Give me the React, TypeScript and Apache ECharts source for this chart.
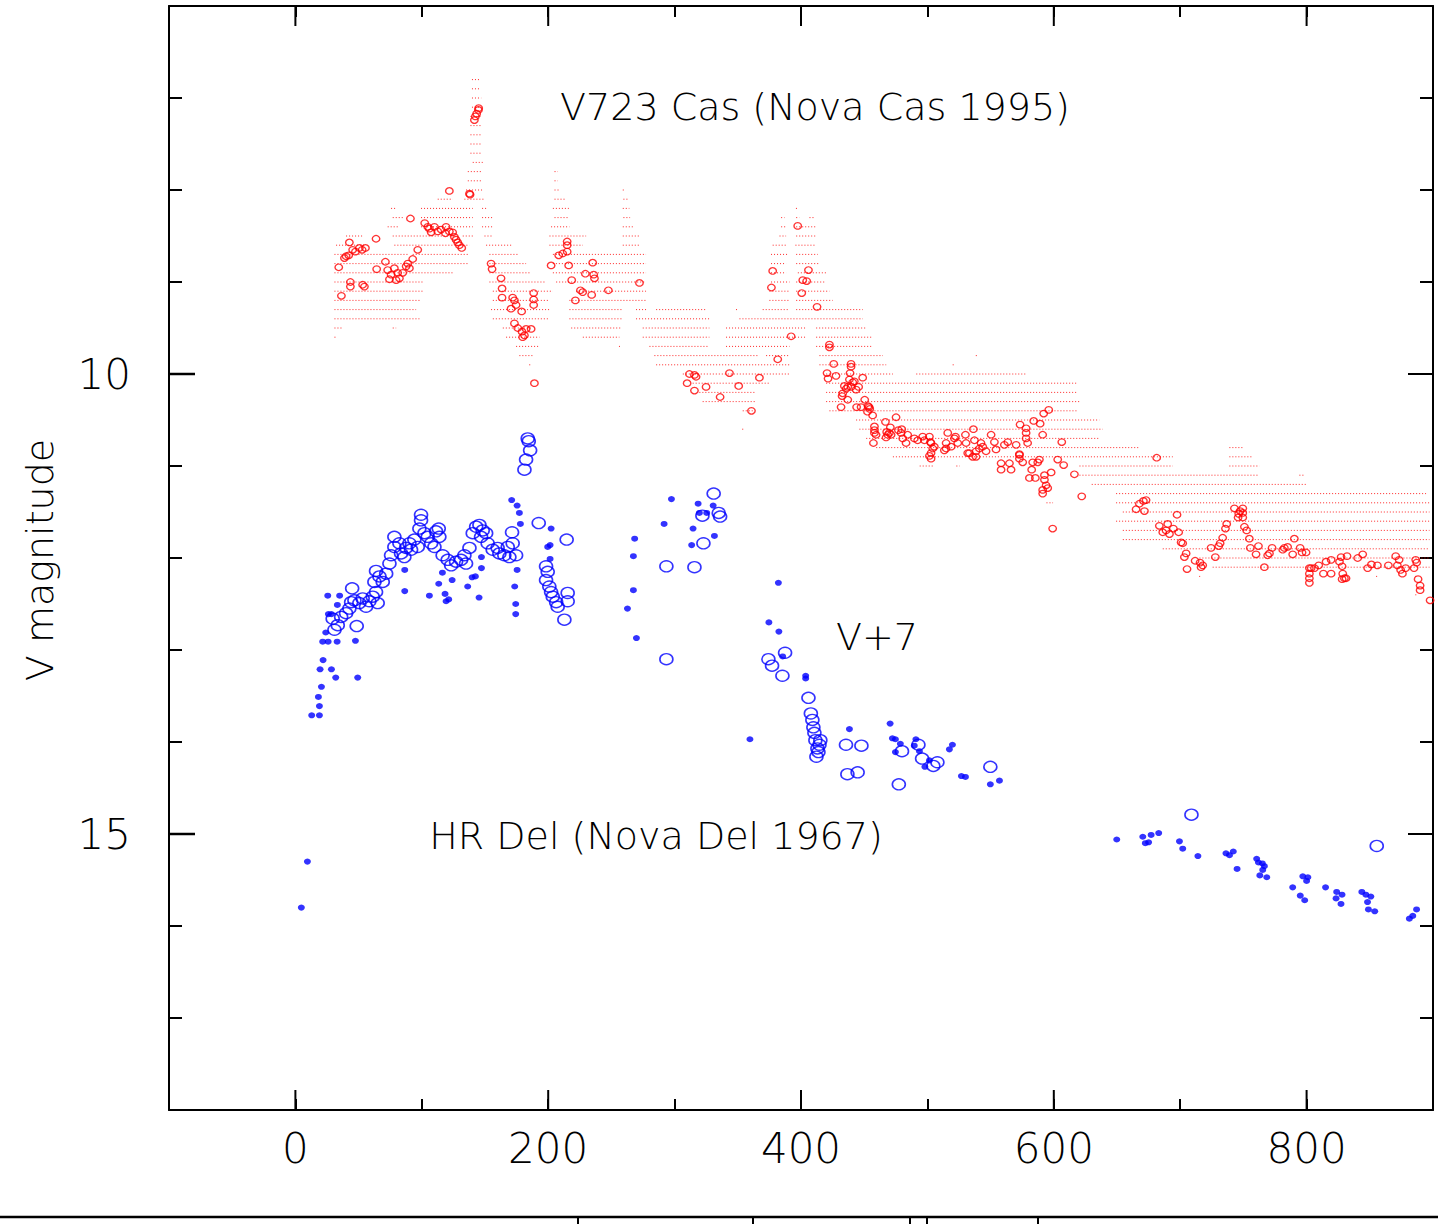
import React, { useEffect, useRef } from "react";
import * as echarts from "echarts";

// Axis ticks
const xMajorTicks = [0, 200, 400, 600, 800];
const yMajorTicks = [10, 15];

// V723 Cas: photometric points (open red circles) [day, V]
const v723Circles: [number, number][] = [
  [34.3,8.84],[36.4,9.15],[38.8,8.74],[40.1,8.72],[42.2,8.71],[42.7,8.57],[45.3,8.65],[47.5,8.67],[50.6,8.63],[52.8,8.65],[55.4,8.63],[43.5,9.0],[43.5,9.05],[53.2,9.03],[54.6,9.05],[63.8,8.53],[64.3,8.86],[71.2,8.78],[73.0,8.87],[75.7,8.92],[78.3,8.85],[80.9,8.90],[82.3,8.96],[74.4,8.97],[79.7,8.98],[84.9,8.90],[87.6,8.83],[90.2,8.85],[88.9,8.80],[92.8,8.75],[96.8,8.65],[91.0,8.31],[102.3,8.36],[104.7,8.40],[107.4,8.46],[106.0,8.42],[110.0,8.40],[112.6,8.45],[115.3,8.43],[119.2,8.40],[118.7,8.47],[121.8,8.45],[124.4,8.46],[125.8,8.51],[127.1,8.54],[128.4,8.57],[129.7,8.60],[131.6,8.63],[121.8,8.01],[137.7,8.04],[138.2,8.05],[141.6,7.24],[142.4,7.20],[143.4,7.17],[144.8,7.13],[145.0,7.11],[154.8,8.80],[155.6,8.86],[162.7,8.96],[163.5,9.07],[163.5,9.17],[171.9,9.17],[173.3,9.20],[170.6,9.29],[174.6,9.25],[173.3,9.45],[175.9,9.50],[179.3,9.54],[181.2,9.58],[182.5,9.51],[186.5,9.51],[179.8,9.60],[179.0,9.32],[188.5,9.12],[188.5,9.19],[188.5,9.25],[189.1,10.10],[202.3,8.82],[208.3,8.71],[211.5,8.69],[215.0,8.56],[215.0,8.60],[215.0,8.67],[216.2,8.82],[218.6,8.98],[221.5,9.20],[225.5,9.09],[227.3,9.11],[229.4,8.91],[235.2,8.79],[234.4,9.14],[236.0,8.92],[236.6,8.96],[247.6,9.09],[272.2,9.01],
  [311.7,10.0],[315.7,10.01],[317.0,10.03],[309.9,10.10],[315.7,10.18],[324.9,10.14],[336.0,10.25],[343.4,9.99],[350.7,10.13],[360.8,10.40],[367.1,10.04],[381.6,9.84],[376.6,9.06],[377.6,8.88],[392.2,9.59],[397.4,8.39],[400.6,9.12],[401.4,8.98],[404.5,8.99],[405.9,8.87],[412.7,9.27],[422.5,9.68],[422.5,9.71],[425.9,9.89],[420.6,9.99],[421.4,10.05],[427.7,10.02],[439.6,9.89],[439.6,9.92],[438.8,9.99],[438.3,10.06],[440.9,10.09],[442.2,10.08],[448.8,10.04],[434.3,10.13],[437.0,10.14],[435.7,10.16],[433.0,10.21],[432.5,10.24],[437.0,10.28],[431.7,10.36],[439.6,10.14],[443.6,10.17],[445.6,10.14],[444.0,10.36],[447.5,10.36],[450.4,10.28],[453.1,10.35],[454.4,10.38],[452.6,10.41],[453.9,10.36],[456.7,10.45],[457.3,10.75],[458.1,10.57],[458.1,10.61],[458.1,10.64],[459.4,10.66],[466.8,10.52],[467.8,10.63],[468.6,10.66],[467.3,10.69],[469.9,10.64],[471.3,10.66],[475.2,10.47],[470.7,10.58],[477.0,10.61],[479.7,10.60],[479.2,10.64],[480.5,10.70],[483.1,10.75],[484.4,10.66],[489.7,10.70],[492.3,10.72],[496.3,10.68],[497.6,10.72],[501.6,10.68],[502.4,10.74],[502.9,10.75],[504.2,10.81],[505.5,10.79],[502.9,10.86],[502.9,10.92],[501.6,10.89],[514.8,10.75],[514.8,10.81],[513.4,10.83],[516.1,10.64],[518.8,10.79],[521.4,10.70],[524.0,10.75],[522.2,10.68],[530.1,10.66],[530.6,10.75],[533.2,10.86],[535.8,10.90],[537.2,10.72],[538.5,10.84],[541.1,10.81],[542.4,10.75],[543.8,10.79],[536.4,10.60],[531.9,10.86],[538.5,10.90],[546.4,10.84],[550.4,10.66],[553.0,10.74],[554.3,10.82],[558.3,10.97],[558.3,11.04],[560.9,10.77],[564.9,10.97],[566.2,11.04],[570.2,10.77],[563.6,10.74],[572.8,10.92],[572.8,10.88],[573.3,10.55],[578.1,10.59],[578.1,10.64],[578.1,10.70],[575.4,10.96],[579.3,10.75],[572.8,10.87],[584.1,10.51],[589.2,10.54],[591.2,10.66],[583.3,10.96],[582.5,11.04],[580.7,11.13],[585.4,11.13],[587.3,10.96],[588.6,10.93],[592.6,11.10],[592.6,11.15],[593.9,11.21],[591.2,11.26],[591.2,11.30],[595.2,11.24],[597.9,11.07],[592.0,10.43],[596.0,10.39],[603.1,10.93],[607.8,10.99],[606.3,10.74],[616.3,11.09],[622.1,11.33],[599.1,11.68],
  [665.1,11.47],[667.7,11.41],[670.9,11.38],[673.0,11.37],[671.7,11.49],[681.4,10.91],[683.5,11.65],[690.1,11.63],[686.2,11.72],[691.5,11.74],[688.8,11.70],[694.6,11.68],[698.8,11.72],[697.5,11.53],[700.7,11.83],[702.0,11.84],[704.7,11.95],[703.3,11.99],[705.4,12.12],[711.8,12.03],[715.7,12.05],[716.5,12.10],[717.8,12.08],[724.4,11.89],[727.8,11.99],[730.5,11.87],[731.6,11.84],[733.6,11.78],[735.8,11.68],[736.8,11.63],[742.9,11.46],[745.8,11.56],[746.3,11.52],[747.4,11.49],[749.5,11.46],[749.5,11.51],[749.5,11.56],[750.8,11.66],[752.6,11.70],[754.7,11.79],[755.5,11.89],[760.0,11.96],[761.9,11.87],[766.6,12.10],[769.2,11.97],[770.6,11.95],[772.7,11.89],[781.1,11.91],[782.4,11.89],[785.0,11.88],[789.0,11.96],[790.3,11.79],[794.9,11.89],[796.4,11.94],[799.6,11.94],[802.2,12.11],[802.2,12.17],[802.2,12.22],[802.2,12.27],[803.6,12.11],[806.2,12.11],[809.6,12.08],[813.3,12.17],[819.4,12.17],[815.4,12.04],[819.4,12.02],[826.0,12.04],[827.3,11.99],[832.0,11.98],[828.1,12.09],[828.6,12.17],[829.9,12.22],[831.2,12.22],[828.1,12.23],[840.4,12.00],[844.4,11.96],[848.3,12.11],[851.3,12.07],[856.0,12.08],[864.7,12.08],[870.5,11.98],[873.2,12.02],[871.8,12.08],[874.4,12.13],[875.8,12.17],[878.4,12.11],[885.0,12.11],[886.3,12.02],[887.1,12.05],[888.2,12.23],[889.8,12.30],[889.8,12.35],[897.7,12.46]
];

// V723 Cas visual estimates, rows of dots: [V, day from, day to]
const v723Visual: [number, number, number][] = [
  [6.8,139.7,146.2],[6.9,139.7,146.2],[7.0,139.7,147.0],[7.1,139.7,147.0],[7.2,138.5,147.7],[7.3,138.5,147.7],[7.4,138.5,147.7],[7.5,138.5,147.7],[7.6,138.5,147.7],[7.7,140.3,148.2],
  [7.8,136.4,148.2],[7.8,205,207.6],[7.9,136.4,148.2],[7.9,205,207.6],
  [8.0,135,148.2],[8.0,205,208.9],[8.0,259,260.3],
  [8.1,112.6,124.5],[8.1,133.7,149.6],[8.1,205,214.2],[8.1,259.5,264.2],
  [8.2,75.7,79.7],[8.2,99.4,140.3],[8.2,147.7,150.9],[8.2,203.7,216.3],[8.2,259,264.2],[8.2,396,398],
  [8.3,77,84.9],[8.3,99.4,140.3],[8.3,147.7,156.2],[8.3,205,215.5],[8.3,259.5,264.8],[8.3,384.3,387],[8.3,396.2,398.7],[8.3,406.7,410.6],
  [8.4,73,82.3],[8.4,99.4,140.3],[8.4,147.7,156.2],[8.4,202.3,216.8],[8.4,259,266.9],[8.4,384.3,388.2],[8.4,396.2,412],
  [8.5,40.1,53.3],[8.5,77,127.1],[8.5,132.4,140.3],[8.5,149.6,156.2],[8.5,201,230],[8.5,259,272.2],[8.5,383,388.2],[8.5,396.2,412],
  [8.6,32.2,55.9],[8.6,78.3,137.7],[8.6,150.9,172],[8.6,201,227.4],[8.6,259,272.2],[8.6,377.6,388.2],[8.6,395.6,412],
  [8.7,30.9,90.2],[8.7,92.8,137.7],[8.7,153.5,177.2],[8.7,203.7,277.4],[8.7,376.3,389.5],[8.7,396.2,413.3],
  [8.8,30.9,137.7],[8.8,153.5,182.5],[8.8,203.7,277.4],[8.8,376.3,388.2],[8.8,396.2,414.6],
  [8.9,30.9,124.5],[8.9,153.5,185.2],[8.9,203.7,277.4],[8.9,376.3,388.2],[8.9,397.5,419.9],
  [9.0,30.9,100.8],[9.0,153.5,198.4],[9.0,206.3,277.4],[9.0,376.3,390.9],[9.0,396.2,419.9],
  [9.1,30.9,100.8],[9.1,156.2,203.7],[9.1,222.1,277.4],[9.1,375,390.9],[9.1,396.2,422.5],
  [9.2,30.9,99.4],[9.2,156.2,201],[9.2,216.8,277.4],[9.2,375,390.9],[9.2,396.2,425.1],
  [9.3,30.9,95.5],[9.3,154.8,201],[9.3,216.8,259],[9.3,269.5,277.4],[9.3,285.4,324.9],[9.3,348.6,349.6],[9.3,369.7,390.9],[9.3,396.2,448.9],
  [9.4,30.9,98.1],[9.4,156.2,199.7],[9.4,216.8,259],[9.4,269.5,327.5],[9.4,351.3,448.9],
  [9.5,30.9,37.4],[9.5,77,79.7],[9.5,164.1,187.8],[9.5,218.2,257.6],[9.5,274.8,327.5],[9.5,340.7,404],[9.5,412,451.6],
  [9.6,30.9,32.2],[9.6,166.7,193.1],[9.6,227.4,256.3],[9.6,274.8,327.5],[9.6,340.7,404],[9.6,412,456.8],
  [9.7,174.6,193.1],[9.7,256,257],[9.7,280.1,327.5],[9.7,340.7,390.9],[9.7,412,456.8],
  [9.8,177.2,187.8],[9.8,284,367.1],[9.8,372.4,390.9],[9.8,414.6,464.8],[9.8,538.3,539.3],
  [9.9,185,186],[9.9,285.4,390.9],[9.9,414.6,467.4],[9.9,520,521],
  [10.0,306.5,390.9],[10.0,419.9,472.7],[10.0,491.2,578.3],
  [10.1,314.3,375],[10.1,419.9,617.9],
  [10.2,319.6,364.4],[10.2,419.9,617.9],
  [10.3,322.2,364.4],[10.3,419.9,620.5],
  [10.4,353.9,361.8],[10.4,422.5,617.9],
  [10.5,443.6,636],
  [10.6,353.5,354.5],[10.6,446.2,638.7],
  [10.7,451.6,636.1],
  [10.8,459.5,667.7],[10.8,738.9,749.5],
  [10.9,472.7,694.1],[10.9,738.9,757.4],
  [11.0,493.9,504.5],[11.0,522.9,525.6],[11.0,620.3,694.1],[11.0,738.9,762.7],
  [11.1,620.3,762.7],[11.1,794.3,798.3],
  [11.2,630,799.6],
  [11.3,649.3,894.5],
  [11.4,594.2,599.4],[11.4,649.3,897.2],
  [11.5,654.6,897.2],
  [11.6,649.3,897.2],
  [11.7,654.6,897.2],
  [11.8,654.6,897.2],
  [11.9,686.2,897.2],
  [12.0,715.2,897.2],
  [12.1,725.7,897.2],
  [12.2,715,716],[12.2,855,856],[12.2,886,888],
  [12.4,886,888]
];

// HR Del (V+7): open blue circles [day, V+7]
const hrDelOpen: [number, number][] = [
  [30.9,12.78],[33.5,12.73],[29.5,12.66],[36.2,12.64],[40.1,12.60],[42.7,12.55],[44.1,12.48],[46.7,12.46],[50.6,12.49],[53.2,12.44],[55.9,12.53],[58.5,12.47],[61.2,12.42],[65.1,12.49],[44.9,12.33],[48.5,12.74],[63.8,12.37],[62.5,12.26],[63.8,12.14],[66.5,12.20],[69.1,12.26],[71.8,12.17],[74.4,12.06],[75.7,11.97],[78.3,11.88],[78.3,11.77],[82.3,11.84],[83.6,11.95],[86.2,11.99],[87.6,11.89],[90.2,11.84],[91.5,11.91],[94.1,11.80],[96.8,11.88],[99.4,11.53],[99.4,11.59],[98.1,11.68],[102.1,11.73],[104.7,11.77],[107.4,11.84],[111.3,11.71],[113.4,11.68],[113.9,11.77],[110.0,11.88],[116.5,11.97],[120.5,12.02],[123.2,12.08],[127.1,12.04],[131.1,12.02],[133.7,11.97],[135.0,12.06],[137.7,11.89],[140.3,11.73],[143.0,11.66],[145.6,11.64],[148.2,11.70],[146.9,11.77],[150.9,11.73],[152.1,11.84],[156.1,11.91],[160.0,11.89],[161.4,11.95],[165.3,11.97],[168.0,11.88],[169.3,11.99],[171.9,11.84],[171.4,11.72],[174.6,11.97],[181.2,11.04],[182.5,10.93],[185.7,10.83],[184.6,10.73],[183.8,10.70],[192.5,11.62],[214.6,11.80],[198.3,12.09],[199.6,12.15],[198.3,12.24],[200.9,12.31],[202.3,12.37],[203.6,12.42],[206.3,12.48],[207.5,12.53],[215.4,12.38],[215.4,12.47],[212.8,12.67],
  [293.5,13.10],[293.5,12.09],[315.7,12.10],[322.8,11.84],[330.9,11.30],[334.9,11.51],[336.0,11.55],[322.0,11.54],
  [387.4,13.03],[374.2,13.10],[377.1,13.17],[385.3,13.28],[405.9,13.52],[407.8,13.69],[409.0,13.76],[409.8,13.84],[410.6,13.90],[411.4,13.98],[413.0,14.07],[414.6,14.03],[415.3,13.98],[413.8,14.11],[412.2,14.16],
  [435.6,14.03],[447.8,14.04],[436.7,14.35],[444.8,14.33],[479.9,14.10],[477.4,14.46],[492.9,14.03],[495.8,14.18],[504.7,14.26],[507.9,14.22],[549.8,14.27],[708.9,14.79],[855.5,15.13]
];

// HR Del (V+7): filled blue dots [day, V+7]
const hrDelFilled: [number, number][] = [
  [4.7,15.80],[9.5,15.30],[12.9,13.71],[19.0,13.71],[19.0,13.61],[18.2,13.51],[20.6,13.40],[19.5,13.21],[28.5,13.21],[21.9,13.11],[31.9,13.30],[49.3,13.30],[21.6,12.91],[25.9,12.91],[33.0,12.91],[47.5,12.90],[24.0,12.81],[25.6,12.41],[35.0,12.41],[26.1,12.61],[28.5,12.61],[33.2,12.51],
  [86.5,12.13],[86.5,12.36],[106.0,12.41],[116.3,12.16],[113.4,12.28],[118.4,12.39],[119.2,12.47],[121.3,12.45],[124.0,12.24],[136.3,12.31],[145.3,12.43],[142.4,12.20],[139.8,12.21],[147.2,11.99],[147.2,12.11],
  [171.1,11.37],[175.4,11.43],[177.2,11.51],[178.0,11.63],[175.4,12.13],[173.5,12.31],[174.3,12.50],[174.3,12.61],[202.3,11.68],[201.5,11.86],[199.6,11.88],[201.5,12.01],
  [262.7,12.55],[269.8,12.87],[268.4,11.79],[267.4,11.98],[267.4,12.35],[297.5,11.36],[318.6,11.41],[330.5,11.43],[319.6,11.51],[325.4,11.51],[291.7,11.63],[314.6,11.68],[331.5,11.76],[313.5,11.86],
  [359.6,13.97],[382.1,12.27],[374.6,12.70],[382.5,12.80],[385.5,13.07],[403.7,13.28],[403.7,13.31],[438.3,13.86],[470.5,13.80],[472.3,13.96],[474.7,13.97],[478.6,14.02],[474.7,14.11],[490.9,13.97],[489.6,14.04],[493.7,14.10],[498.0,14.27],[501.6,14.20],[517.4,14.08],[519.8,14.03],[526.9,14.37],[530.1,14.38],[549.8,14.46],[557.0,14.42],
  [649.8,15.06],[670.4,15.03],[672.4,15.10],[675.0,15.09],[677.0,15.01],[683.0,14.99],[699.4,15.08],[702.0,15.16],[714.0,15.24],[736.2,15.21],[742.0,15.19],[739.0,15.23],[745.0,15.38],[760.5,15.27],[761.9,15.31],[765.0,15.32],[766.6,15.35],[765.3,15.39],[763.0,15.45],[768.5,15.47],[789.0,15.58],[797.0,15.46],[801.0,15.47],[800.0,15.51],[795.0,15.67],[798.5,15.72],[815.0,15.58],[823.8,15.63],[828.0,15.66],[823.3,15.70],[827.2,15.76],[843.7,15.63],[846.9,15.66],[850.8,15.68],[848.2,15.74],[848.9,15.82],[853.9,15.84],[881.3,15.92],[884.0,15.89],[887.0,15.82]
];

const labels = {
  v723: "V723 Cas (Nova Cas 1995)",
  shift: "V+7",
  hrdel: "HR Del (Nova Del 1967)",
  yTitle: "V magnitude",
};

const FONT = '"DejaVu Sans", sans-serif';
const WEIGHT = 200;
const black = "#000";
const tickStyle = { color: black, width: 2 };
const X_MIN = -100, X_MAX = 900, Y_MIN = 6, Y_MAX = 18;

function xAxes(): any[] {
  const base = {
    type: "value",
    min: X_MIN,
    max: X_MAX,
    interval: 100,
    splitLine: { show: false },
    axisLine: { show: true, onZero: false, lineStyle: tickStyle },
    axisTick: { inside: true, length: 11, lineStyle: tickStyle },
    axisLabel: { show: false },
  };
  return [
    { ...base, position: "bottom" },
    { ...base, position: "top" },
  ];
}

function yAxes(): any[] {
  const base = {
    type: "value",
    min: Y_MIN,
    max: Y_MAX,
    interval: 1,
    inverse: true,
    splitLine: { show: false },
    axisLine: { show: true, onZero: false, lineStyle: tickStyle },
    axisTick: { inside: true, length: 13, lineStyle: tickStyle },
    axisLabel: { show: false },
  };
  return [
    { ...base, position: "left" },
    { ...base, position: "right" },
  ];
}

function textEl(text: string, x: number, y: number, size: number, rotation = 0): any {
  return {
    type: "text",
    x,
    y,
    rotation,
    silent: true,
    style: {
      text,
      font: `${WEIGHT} ${size}px ${FONT}`,
      fill: black,
      align: "center",
      verticalAlign: "middle",
      textAlign: "center",
      textVerticalAlign: "middle",
    },
  };
}

const tickLine = (x1: number, y1: number, x2: number, y2: number) => ({
  type: "line",
  silent: true,
  z: 100,
  shape: { x1, y1, x2, y2 },
  style: { stroke: black, lineWidth: 2 },
});

const tickText = (text: string, x: number, y: number, align: string, vAlign: string) => ({
  type: "text",
  x,
  y,
  style: {
    text,
    font: `${WEIGHT} 42px ${FONT}`,
    fill: black,
    align,
    verticalAlign: vAlign,
    textAlign: align,
    textVerticalAlign: vAlign,
  },
});

export default function App() {
  const ref = useRef<HTMLDivElement>(null);

  useEffect(() => {
    if (!ref.current) return;
    const chart = echarts.init(ref.current, null, { renderer: "svg" });
    const option: any = {
      animation: false,
      backgroundColor: "#fff",
      grid: { left: 169, top: 6, width: 1264, height: 1104, containLabel: false },
      xAxis: xAxes(),
      yAxis: yAxes(),
      series: [
        {
          type: "custom",
          name: "V723 Cas visual",
          clip: true,
          silent: true,
          data: v723Visual,
          encode: { x: [1, 2], y: 0 },
          renderItem: (_params: any, api: any) => {
            const m = api.value(0);
            const p1 = api.coord([api.value(1), m]);
            const p2 = api.coord([api.value(2), m]);
            return {
              type: "line",
              shape: { x1: p1[0], y1: p1[1], x2: Math.max(p2[0], p1[0] + 1.5), y2: p2[1] },
              style: { stroke: "rgba(255,0,0,0.85)", lineWidth: 1, lineDash: [1, 2] },
            };
          },
        },
        {
          type: "scatter",
          name: "V723 Cas",
          data: v723Circles,
          symbol: "circle",
          symbolSize: [7.5, 6.5],
          itemStyle: { color: "rgba(0,0,0,0)", borderColor: "#ff0000", borderWidth: 1.3 },
          silent: true,
        },
        {
          type: "scatter",
          name: "HR Del open",
          data: hrDelOpen,
          symbol: "circle",
          symbolSize: [13, 11],
          itemStyle: { color: "rgba(0,0,0,0)", borderColor: "#0000ff", borderWidth: 1.5 },
          silent: true,
        },
        {
          type: "scatter",
          name: "HR Del filled",
          data: hrDelFilled,
          symbol: "circle",
          symbolSize: [7, 6],
          itemStyle: { color: "#0000ff" },
          silent: true,
        },
        {
          // long (major) ticks and labels on bottom and top axes
          type: "custom",
          name: "x major ticks",
          clip: false,
          silent: true,
          z: 10,
          data: xMajorTicks.map((v) => [v, Y_MAX]),
          encode: { x: 0, y: 1 },
          renderItem: (_params: any, api: any) => {
            const v = api.value(0);
            const b = api.coord([v, Y_MAX]);
            const t = api.coord([v, Y_MIN]);
            return {
              type: "group",
              children: [
                tickLine(b[0], b[1], b[0], b[1] - 20),
                tickLine(t[0], t[1], t[0], t[1] + 20),
                tickText(String(v), b[0], b[1] + 17, "center", "top"),
              ],
            };
          },
        },
        {
          // long (major) ticks and labels on left and right axes
          type: "custom",
          name: "y major ticks",
          clip: false,
          silent: true,
          z: 10,
          data: yMajorTicks.map((v) => [X_MIN, v]),
          encode: { x: 0, y: 1 },
          renderItem: (_params: any, api: any) => {
            const v = api.value(1);
            const l = api.coord([X_MIN, v]);
            const r = api.coord([X_MAX, v]);
            return {
              type: "group",
              children: [
                tickLine(l[0] + 1, l[1], l[0] + 26, l[1]),
                tickLine(r[0], r[1], r[0] - 25, r[1]),
                tickText(String(v), l[0] - 38, l[1], "right", "middle"),
              ],
            };
          },
        },
      ],
      graphic: {
        elements: [
          textEl(labels.v723, 815, 107, 38),
          textEl(labels.shift, 877, 637, 38),
          textEl(labels.hrdel, 656, 836, 38),
          textEl(labels.yTitle, 40, 560, 38, Math.PI / 2),
          { type: "line", silent: true, shape: { x1: 0, y1: 1217, x2: 1438, y2: 1217 }, style: { stroke: black, lineWidth: 2.5 } },
          { type: "line", silent: true, shape: { x1: 578, y1: 1217, x2: 578, y2: 1224 }, style: { stroke: black, lineWidth: 2 } },
          { type: "line", silent: true, shape: { x1: 753, y1: 1217, x2: 753, y2: 1224 }, style: { stroke: black, lineWidth: 2 } },
          { type: "line", silent: true, shape: { x1: 910, y1: 1217, x2: 910, y2: 1224 }, style: { stroke: black, lineWidth: 2 } },
          { type: "line", silent: true, shape: { x1: 927, y1: 1217, x2: 927, y2: 1224 }, style: { stroke: black, lineWidth: 2 } },
          { type: "line", silent: true, shape: { x1: 1038, y1: 1217, x2: 1038, y2: 1224 }, style: { stroke: black, lineWidth: 2 } },
        ],
      },
    };
    chart.setOption(option);

    // Also place the left major ticks through the chart's own scale (pixel conversion)
    const leftTicks = yMajorTicks.map((v) => {
      const p = chart.convertToPixel({ gridIndex: 0 }, [X_MIN, v]) as number[];
      return {
        type: "line",
        silent: true,
        z: 200,
        shape: { x1: p[0], y1: p[1], x2: p[0] + 26, y2: p[1] },
        style: { stroke: black, lineWidth: 2.5 },
      };
    });
    chart.setOption({ graphic: { elements: [...option.graphic.elements, ...leftTicks] } });

    return () => chart.dispose();
  }, []);

  return (
    <div
      ref={ref}
      style={{ position: "absolute", left: 0, top: 0, width: 1438, height: 1224, background: "#fff" }}
    />
  );
}
